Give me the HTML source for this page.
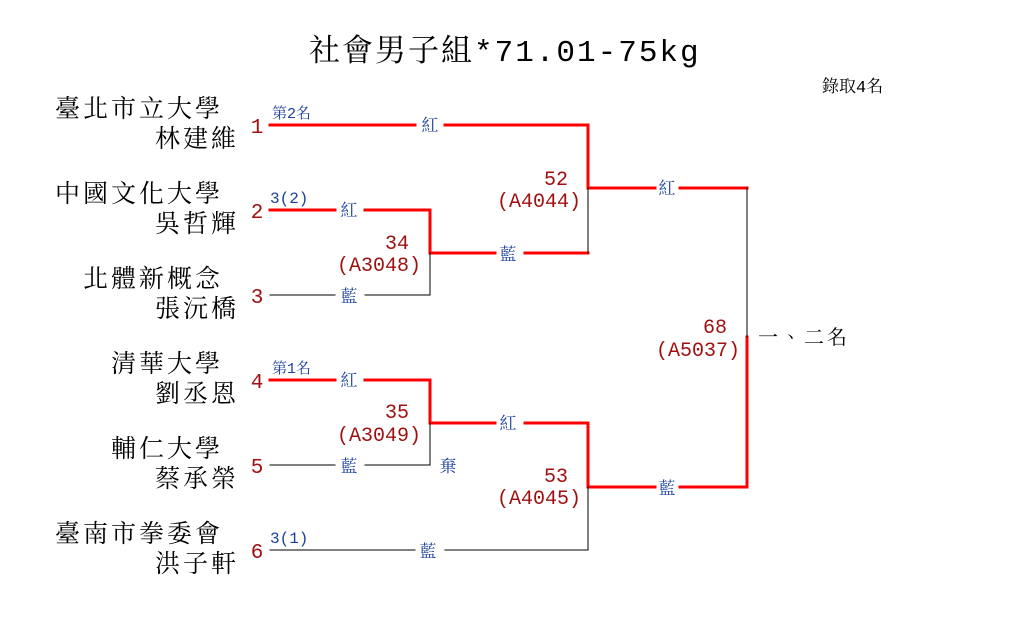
<!DOCTYPE html>
<html><head><meta charset="utf-8"><style>
html,body{margin:0;padding:0;background:#fff;}
svg{display:block;}
text{font-family:"Liberation Mono","Noto Serif CJK TC","Noto Serif CJK SC",monospace;}
.nm{font-size:25px;fill:#000;letter-spacing:3px;}
.num{font-size:21px;fill:#a01010;}
.lb{font-size:17px;fill:#1a3f9c;}
.sm{font-size:15px;fill:#1a3f9c;}
.mt{font-size:20px;fill:#a01010;}
</style></head><body>
<svg width="1010" height="635" viewBox="0 0 1010 635" xmlns="http://www.w3.org/2000/svg">
<text x="309" y="61" style="font-size:31px;letter-spacing:2px" fill="#000">社會男子組*71.01-75kg</text>
<text x="822" y="92" style="font-size:17px" fill="#000">錄取4名</text>

<text x="55" y="117" class="nm">臺北市立大學</text><text x="155" y="147" class="nm">林建維</text>
<text x="55" y="202" class="nm">中國文化大學</text><text x="155" y="232" class="nm">吳哲輝</text>
<text x="83" y="287" class="nm">北體新概念</text><text x="155" y="317" class="nm">張沅橋</text>
<text x="111" y="372" class="nm">清華大學</text><text x="155" y="402" class="nm">劉丞恩</text>
<text x="111" y="457" class="nm">輔仁大學</text><text x="155" y="487" class="nm">蔡承榮</text>
<text x="55" y="542" class="nm">臺南市拳委會</text><text x="155" y="572" class="nm">洪子軒</text>

<g text-anchor="middle">
<text x="257" y="133" class="num">1</text><text x="257" y="218" class="num">2</text><text x="257" y="303" class="num">3</text>
<text x="257" y="388" class="num">4</text><text x="257" y="473" class="num">5</text><text x="257" y="558" class="num">6</text>
</g>

<g fill="none" stroke-linecap="square">
<g stroke="#f00" stroke-width="3">
<path d="M270 125H415M445 125H588V188H655M680 188H747"/>
<path d="M270 210H335M365 210H430V253H495M525 253H588"/>
<path d="M270 380H335M365 380H430V423H495M525 423H588V487H655M680 487H747V337"/>
</g>
<g stroke="#000" stroke-width="1">
<path d="M588 188V253M430 253V295M430 423V465M588 487V550M747 188V337"/>
<path d="M270 295H335M365 295H430"/>
<path d="M270 465H335M365 465H430"/>
<path d="M270 550H415M445 550H588"/>
</g>
</g>

<g text-anchor="middle">
<text x="430" y="131" class="lb">紅</text>
<text x="349" y="216" class="lb">紅</text>
<text x="349" y="302" class="lb">藍</text>
<text x="508" y="260" class="lb">藍</text>
<text x="667" y="194" class="lb">紅</text>
<text x="349" y="386" class="lb">紅</text>
<text x="349" y="472" class="lb">藍</text>
<text x="508" y="429" class="lb">紅</text>
<text x="448" y="472" class="lb">棄</text>
<text x="428" y="557" class="lb">藍</text>
<text x="667" y="494" class="lb">藍</text>
</g>
<text x="272" y="118" class="sm">第2名</text>
<text x="270" y="203" class="sm" style="font-size:16px">3(2)</text>
<text x="272" y="373" class="sm">第1名</text>
<text x="270" y="543" class="sm" style="font-size:16px">3(1)</text>

<g text-anchor="end">
<text x="568" y="185" class="mt">52</text><text x="581" y="207" class="mt">(A4044)</text>
<text x="409" y="249" class="mt">34</text><text x="421" y="271" class="mt">(A3048)</text>
<text x="409" y="418" class="mt">35</text><text x="421" y="441" class="mt">(A3049)</text>
<text x="568" y="482" class="mt">53</text><text x="581" y="504" class="mt">(A4045)</text>
<text x="727" y="333" class="mt">68</text><text x="740" y="356" class="mt">(A5037)</text>
</g>
<text x="758" y="344" style="font-size:20px;letter-spacing:3px" fill="#000">一、二名</text>
</svg>
</body></html>
